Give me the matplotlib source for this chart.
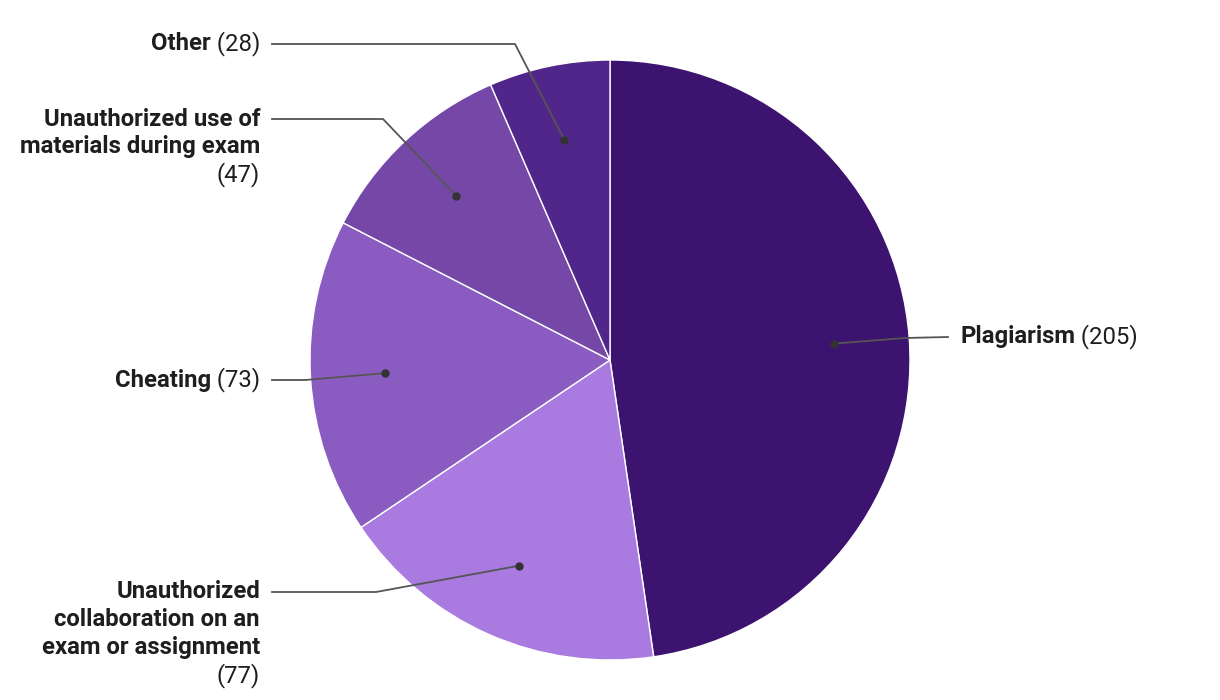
import numpy as np
import matplotlib.pyplot as plt

# data
names = ['Plagiarism', 'Unauthorized\ncollaboration on an\nexam or assignment', 'Cheating',
         'Unauthorized use of\nmaterials during exam', 'Other']
counts = [205, 77, 73, 47, 28]
colors = ['#3c1470', '#a97be0', '#8a5bc0', '#7548a8', '#51268a']
count_own_line = [False, True, False, True, False]

# layout (pixels, y up)
W, H = 1220, 700
cx, cy, R = 610, 340, 300
label_y = [363, 108, 320, 581, 656]       # y of the first label line
elbow_x = [905, 376, 305, 383, 515]
side = ['right', 'left', 'left', 'left', 'left']
LINE_H = 27.8
FS = 17.2

plt.rcParams['font.family'] = ['Roboto', 'DejaVu Sans']

fig = plt.figure(figsize=(W / 100, H / 100), dpi=100)
ax = fig.add_axes([0, 0, 1, 1])

wedges, _ = ax.pie(counts, colors=colors, startangle=90, counterclock=False,
                   radius=R, center=(cx, cy), frame=True,
                   wedgeprops=dict(edgecolor='white', linewidth=1))
ax.set_xlim(0, W)
ax.set_ylim(0, H)
ax.set_aspect('equal')
ax.axis('off')

fig.canvas.draw()
renderer = fig.canvas.get_renderer()

def text_width(s, weight):
    t = ax.text(0, 0, s, fontsize=FS, fontweight=weight)
    w = t.get_window_extent(renderer).width
    t.remove()
    return w

for i, w in enumerate(wedges):
    mid = np.deg2rad((w.theta1 + w.theta2) / 2)
    dx = cx + 0.75 * R * np.cos(mid)
    dy = cy + 0.75 * R * np.sin(mid)
    ly = label_y[i]
    ax.plot(dx, dy, 'o', color='#333333', markersize=5, zorder=5)
    lines = names[i].split('\n')
    num = '(%d)' % counts[i]
    if side[i] == 'left':
        x_end = 272
        ax.plot([x_end, elbow_x[i], dx], [ly, ly, dy], color='#555555', lw=1.3, zorder=4)
        tx = 260
        for j, ln in enumerate(lines):
            y = ly - j * LINE_H
            if j == len(lines) - 1 and not count_own_line[i]:
                reg = ' ' + num
                ax.text(tx, y, reg, ha='right', va='center', fontsize=FS, color='#1e1e1e')
                wr = text_width(reg, 'normal')
                ax.text(tx - wr, y, ln, ha='right', va='center', fontsize=FS,
                        fontweight='bold', color='#1e1e1e')
            else:
                ax.text(tx, y, ln, ha='right', va='center', fontsize=FS,
                        fontweight='bold', color='#1e1e1e')
        if count_own_line[i]:
            ax.text(tx, ly - len(lines) * LINE_H, num, ha='right', va='center',
                    fontsize=FS, color='#1e1e1e')
    else:
        x_end = 948
        ax.plot([dx, elbow_x[i], x_end], [dy, ly - 1, ly], color='#555555', lw=1.3, zorder=4)
        tx = 960
        ax.text(tx, ly, lines[0], ha='left', va='center', fontsize=FS,
                fontweight='bold', color='#1e1e1e')
        wb = text_width(lines[0], 'bold')
        ax.text(tx + wb, ly, ' ' + num, ha='left', va='center', fontsize=FS, color='#1e1e1e')

fig.savefig('out.png', dpi=100)
